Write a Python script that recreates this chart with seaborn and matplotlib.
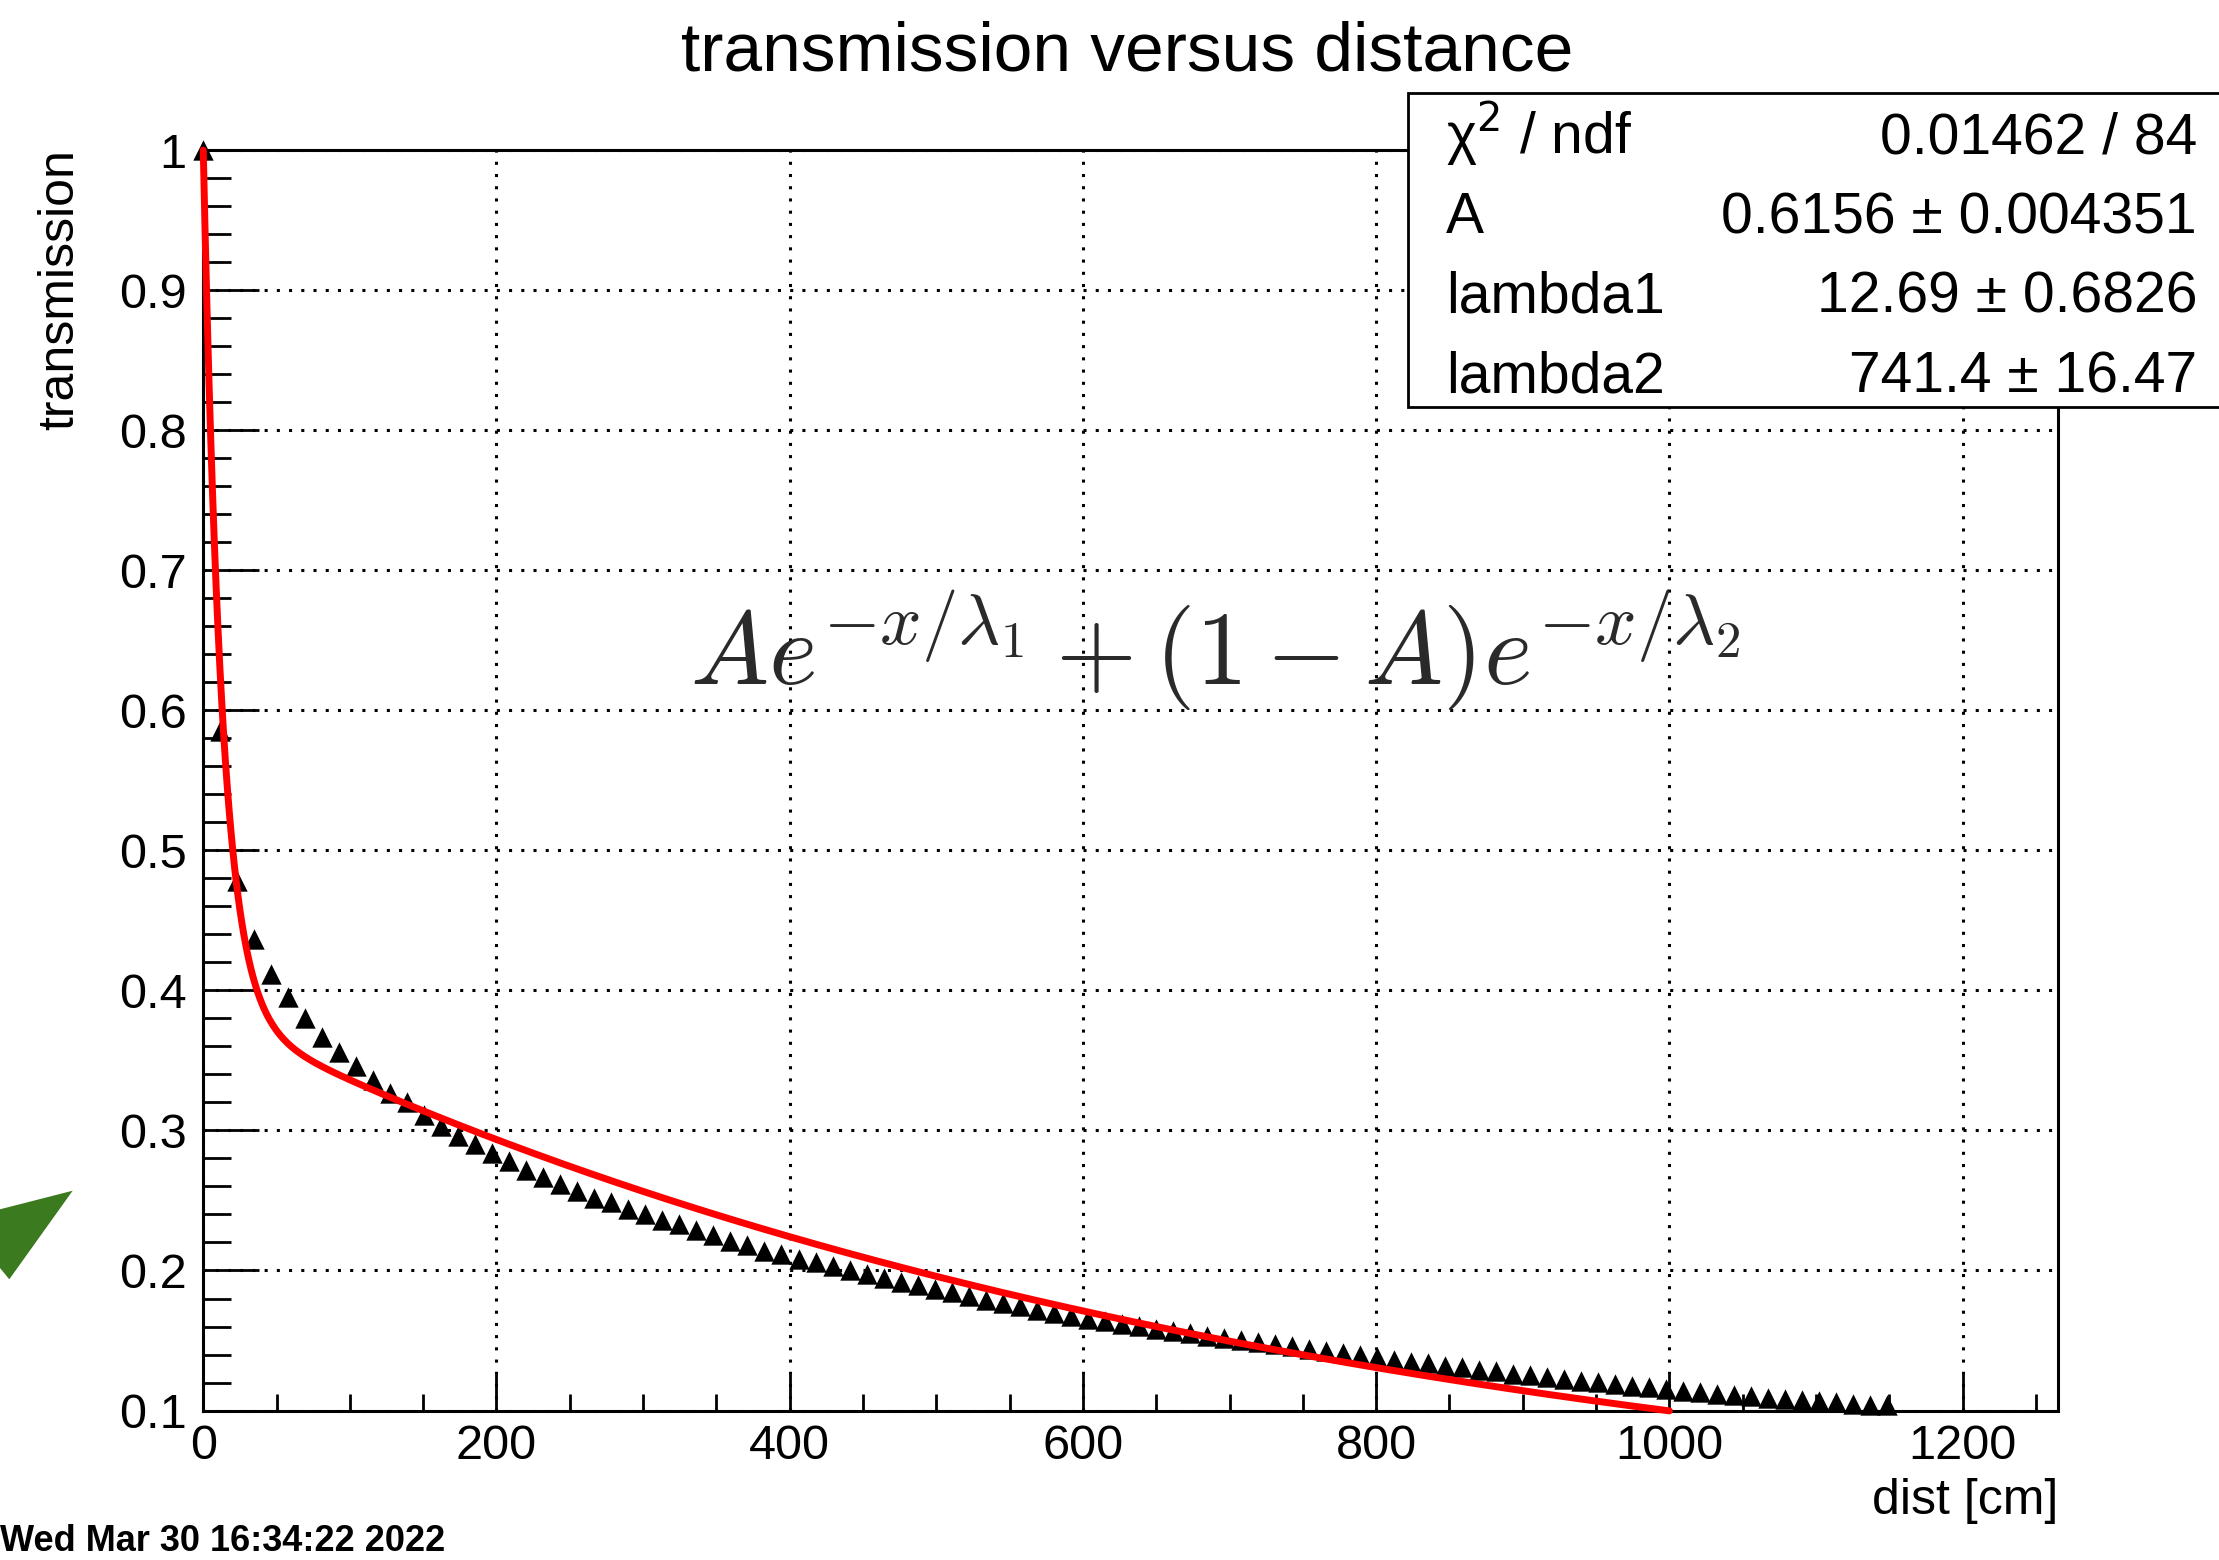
import numpy as np
import matplotlib
matplotlib.use('Agg')
import matplotlib.pyplot as plt
from matplotlib.patches import Rectangle, Polygon
from matplotlib.ticker import MultipleLocator
import seaborn as sns

dist = [0.0, 11.6, 23.2, 34.8, 46.4, 58.0, 69.6, 81.2, 92.8, 104.4,
        116.0, 127.6, 139.2, 150.8, 162.4, 174.0, 185.6, 197.2, 208.8, 220.4,
        232.0, 243.6, 255.2, 266.8, 278.4, 290.0, 301.6, 313.2, 324.8, 336.4,
        348.0, 359.6, 371.2, 382.8, 394.4, 406.0, 417.6, 429.2, 440.8, 452.4,
        464.0, 475.6, 487.2, 498.8, 510.4, 522.0, 533.6, 545.2, 556.8, 568.4,
        580.0, 591.6, 603.2, 614.8, 626.4, 638.0, 649.6, 661.2, 672.8, 684.4,
        696.0, 707.6, 719.2, 730.8, 742.4, 754.0, 765.6, 777.2, 788.8, 800.4,
        812.0, 823.6, 835.2, 846.8, 858.4, 870.0, 881.6, 893.2, 904.8, 916.4,
        928.0, 939.6, 951.2, 962.8, 974.4, 986.0, 997.6, 1009.2, 1020.8, 1032.4,
        1044.0, 1055.6, 1067.2, 1078.8, 1090.4, 1102.0, 1113.6, 1125.2, 1136.8, 1148.4]
transmission = [1.000, 0.585, 0.478, 0.437, 0.412, 0.395, 0.380, 0.367, 0.356, 0.346,
                0.336, 0.327, 0.320, 0.311, 0.303, 0.296, 0.290, 0.284, 0.278, 0.272,
                0.267, 0.262, 0.257, 0.252, 0.249, 0.244, 0.240, 0.236, 0.233, 0.229,
                0.225, 0.221, 0.218, 0.214, 0.212, 0.208, 0.2058, 0.203, 0.2006, 0.1975,
                0.1946, 0.1918, 0.1894, 0.1870, 0.1844, 0.1815, 0.1792, 0.1768, 0.1744, 0.1720,
                0.1697, 0.1673, 0.1652, 0.1637, 0.1618, 0.1601, 0.1585, 0.1571, 0.1554, 0.1535,
                0.1519, 0.1506, 0.1490, 0.1476, 0.1459, 0.1442, 0.1428, 0.1412, 0.1399, 0.1382,
                0.1359, 0.1345, 0.1336, 0.1321, 0.1309, 0.1292, 0.1280, 0.1264, 0.1252, 0.1240,
                0.1228, 0.1214, 0.1202, 0.1190, 0.1178, 0.1169, 0.1156, 0.1143, 0.1133, 0.1121,
                0.1114, 0.1102, 0.1091, 0.1083, 0.1073, 0.1066, 0.1059, 0.1050, 0.1043, 0.1037]

# fit parameters (stats box)
A = 0.6156
lambda1 = 12.69
lambda2 = 741.4
fit_range = [0, 1000]

stat_names = ['\u03c7$^{2}$ / ndf', 'A', 'lambda1', 'lambda2']
stat_values = ['0.01462 / 84', '0.6156 \u00b1 0.004351', '12.69 \u00b1 0.6826', '741.4 \u00b1 16.47']

xticks = [0, 200, 400, 600, 800, 1000, 1200]
xtick_labels = ['0', '200', '400', '600', '800', '1000', '1200']
yticks = [0.1, 0.2, 0.3, 0.4, 0.5, 0.6, 0.7, 0.8, 0.9, 1.0]
ytick_labels = ['0.1', '0.2', '0.3', '0.4', '0.5', '0.6', '0.7', '0.8', '0.9', '1']

sns.set_theme(style='white')
plt.rcParams['font.family'] = ['Liberation Sans', 'DejaVu Sans']
plt.rcParams['text.color'] = 'black'
plt.rcParams['xtick.color'] = 'black'
plt.rcParams['ytick.color'] = 'black'

fig = plt.figure(figsize=(22.19, 15.60), dpi=100)
ax = fig.add_axes([0.0916, 0.0958, 0.8358, 0.808])

ax.grid(True, which='major', color='black', linestyle=(0, (1, 3)), linewidth=2.2)
ax.set_axisbelow(True)

sns.scatterplot(x=dist, y=transmission, marker='^', s=215, color='black',
                linewidth=0, ax=ax, clip_on=False, zorder=3)

fit_x = np.linspace(fit_range[0], fit_range[1], 800)
fit_y = A * np.exp(-fit_x / lambda1) + (1 - A) * np.exp(-fit_x / lambda2)
sns.lineplot(x=fit_x, y=fit_y, color='red', linewidth=5, ax=ax,
             sort=False, estimator=None, zorder=4, clip_on=False)

ax.set_xlim(0, 1265)
ax.set_ylim(0.1, 1.0)
ax.set_xticks(xticks)
ax.set_xticklabels(xtick_labels)
ax.set_yticks(yticks)
ax.set_yticklabels(ytick_labels)
ax.xaxis.set_minor_locator(MultipleLocator(50))
ax.yaxis.set_minor_locator(MultipleLocator(0.02))
ax.tick_params(axis='both', which='both', direction='in', bottom=True, left=True,
               top=False, right=False, color='black', labelcolor='black')
ax.tick_params(axis='y', which='major', length=40, width=2, pad=12, labelsize=35)
ax.tick_params(axis='y', which='minor', length=20, width=2)
ax.tick_params(axis='x', which='major', length=27, width=2, pad=10, labelsize=35)
ax.tick_params(axis='x', which='minor', length=12.5, width=2)
for sp in ax.spines.values():
    sp.set_color('black')
    sp.set_linewidth(2.2)
ax.set_xlabel('')
ax.set_ylabel('')

fig.text(0.5079, 0.9545, 'transmission versus distance', ha='center', va='baseline', fontsize=50)
fig.text(0.027, 0.9045, 'transmission', rotation=90, ha='center', va='top', fontsize=36)
fig.text(0.9275, 0.0295, 'dist [cm]', ha='right', va='baseline', fontsize=36)
fig.text(0.0, 0.0058, 'Wed Mar 30 16:34:22 2022', ha='left', va='baseline',
         fontsize=26, fontweight='bold')

fig.text(0.5476, 0.561, r'$Ae^{-x/\lambda_1} + (1-A)e^{-x/\lambda_2}$',
         math_fontfamily='cm', fontsize=75, ha='center', va='baseline', color='#2a2a2a')

# stats box
box = Rectangle((0.6345, 0.7391), 0.40, 0.2013, transform=fig.transFigure,
                facecolor='white', edgecolor='black', linewidth=2, zorder=5)
fig.add_artist(box)
row_y = [0.9013, 0.8506, 0.7994, 0.7487]
for name, val, yy in zip(stat_names, stat_values, row_y):
    fig.text(0.6516, yy, name, ha='left', va='baseline', fontsize=41, zorder=6)
    fig.text(0.9901, yy, val, ha='right', va='baseline', fontsize=41, zorder=6)

# green pointer in the left margin
arrow = Polygon([(0.03276, 0.23673), (0.0, 0.22481), (0.0, 0.18718), (0.00419, 0.17994)],
                closed=True, transform=fig.transFigure, facecolor='#3b7a1e', edgecolor='none')
fig.add_artist(arrow)

fig.savefig('out.png', dpi=100, facecolor='white')
